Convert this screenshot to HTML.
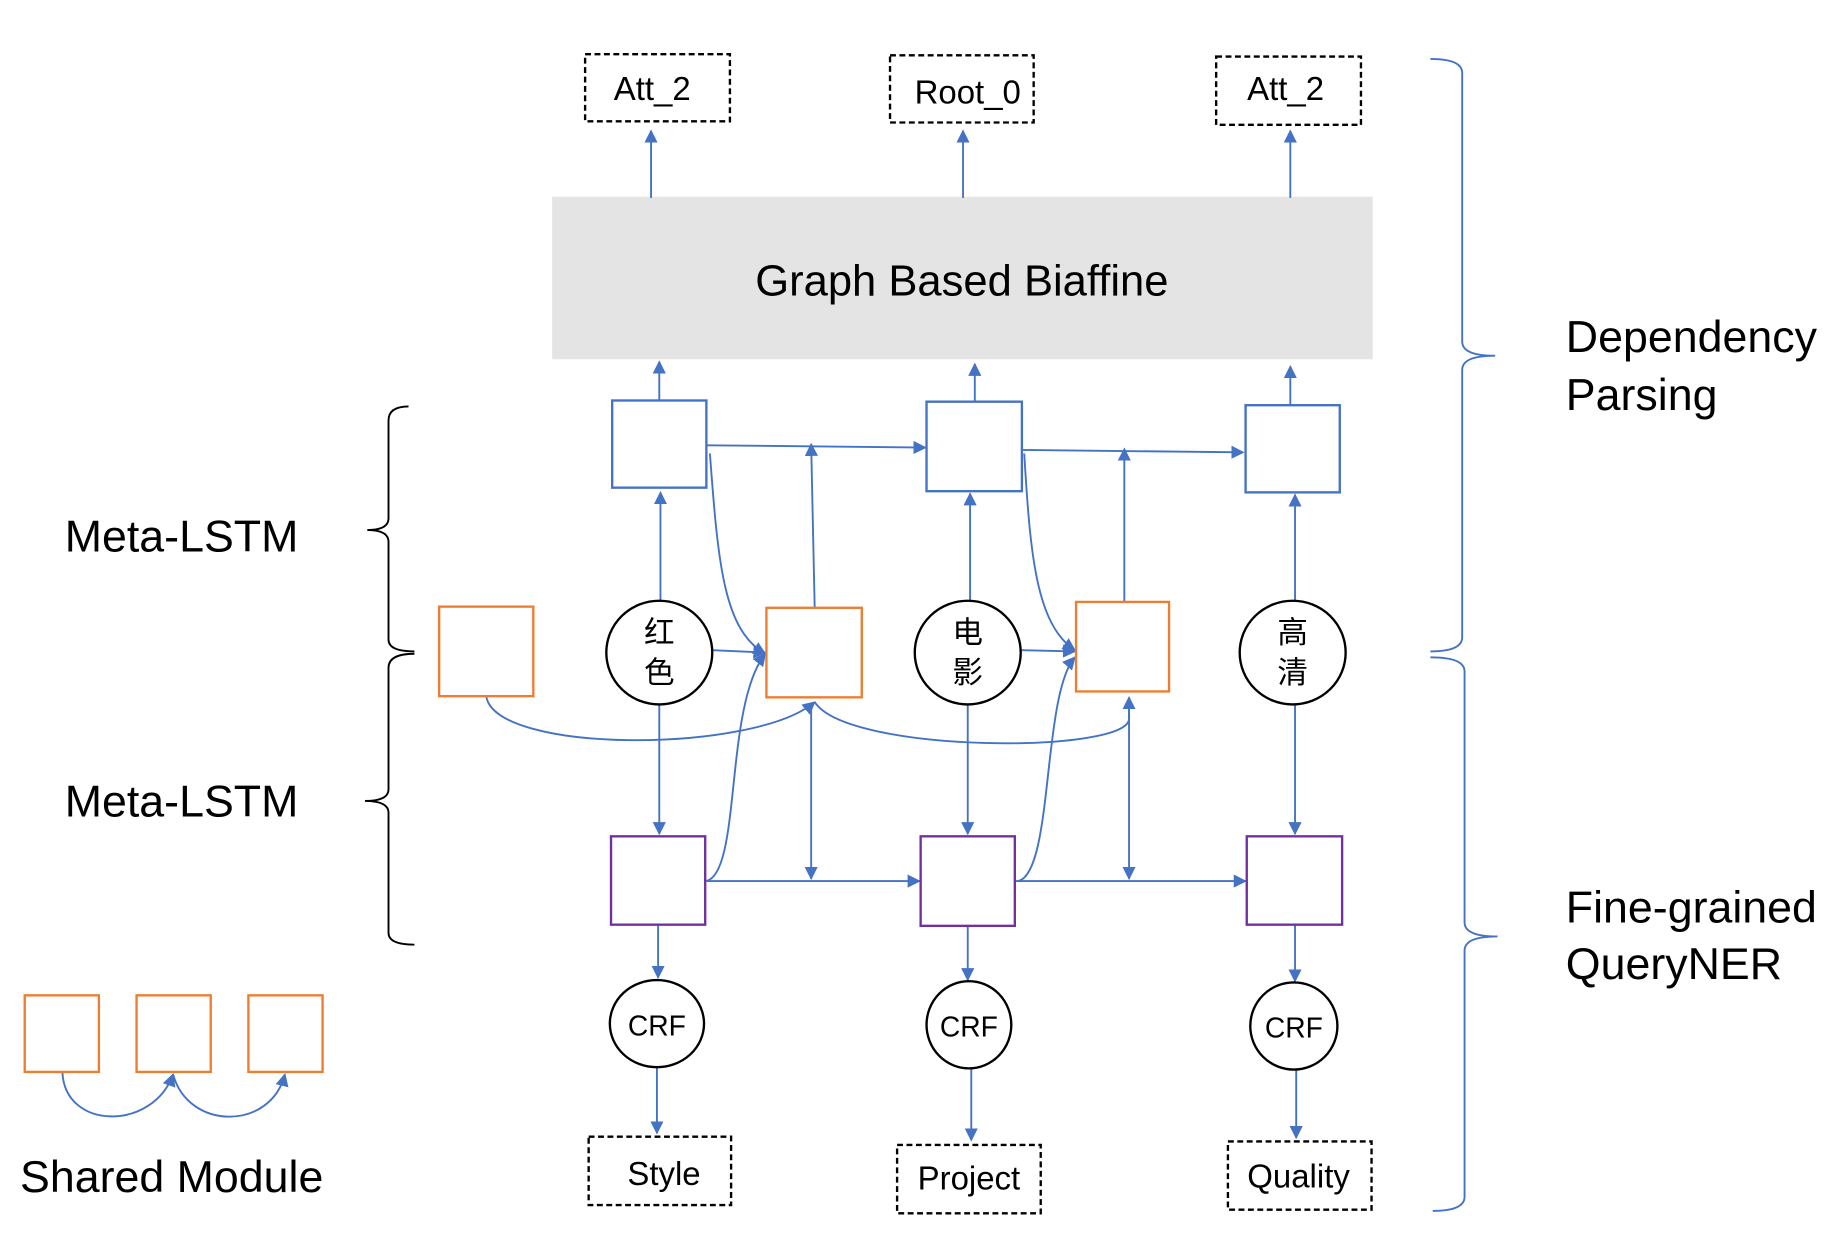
<!DOCTYPE html>
<html><head><meta charset="utf-8"><style>html,body{margin:0;padding:0;background:#fff}svg{display:block}</style></head>
<body>
<svg width="1846" height="1238" viewBox="0 0 1568 1051" preserveAspectRatio="none" xmlns="http://www.w3.org/2000/svg" font-family="'Liberation Sans','Noto Sans CJK SC',sans-serif">
<defs>
<marker id="a" viewBox="0 0 10 10" refX="9" refY="5" markerWidth="7" markerHeight="7" orient="auto-start-reverse"><path d="M0,0L10,5L0,10z" fill="#4472c4"/></marker>
</defs>
<rect width="1568" height="1051" fill="#fff"/>
<g fill="none" stroke="#000" stroke-width="2" stroke-dasharray="5,3">
<rect x="497" y="46" width="123" height="57"/>
<rect x="756" y="47" width="122" height="57"/>
<rect x="1033" y="48" width="123" height="58"/>
<rect x="500" y="965" width="121" height="58"/>
<rect x="762" y="972" width="122" height="58"/>
<rect x="1043" y="969" width="122" height="58"/>
</g>
<g font-size="28" text-anchor="middle" fill="#000">
<text x="554" y="85">Att_2</text>
<text x="822" y="88">Root_0</text>
<text x="1092" y="85">Att_2</text>
<text x="564" y="1006">Style</text>
<text x="823" y="1010">Project</text>
<text x="1103" y="1008">Quality</text>
</g>
<rect x="469" y="167" width="697" height="138" fill="#e4e4e4"/>
<text x="817" y="251" font-size="37" text-anchor="middle">Graph Based  Biaffine</text>
<g stroke="#4472c4" stroke-width="1.6" fill="none" marker-end="url(#a)">
<path d="M553,168V111"/><path d="M818,168V111"/><path d="M1096,168V111"/>
<path d="M560,340V307"/><path d="M828,341V309"/><path d="M1096,344V311"/>
<path d="M600,378L786,380"/><path d="M869,382L1056,384"/>
<path d="M561,510V418"/><path d="M560,598V708"/><path d="M605,552L650,554"/>
<path d="M603,385C610,480 615,535 650,555"/>
<path d="M692,516L689,377"/>
<path d="M600,748C630,740 615,600 650,555"/>
<path d="M413,591C420,640 640,640 692,596"/>
<path d="M692,596C720,640 960,640 959,610L959,592"/>
<path d="M689,600V746"/><path d="M959,600V746"/>
<path d="M600,748H781"/><path d="M862,748H1058"/>
<path d="M824,510V419"/><path d="M822,598V708"/><path d="M868,552L913,553"/>
<path d="M870,385C875,470 880,530 913,552"/>
<path d="M865,748C895,740 885,590 913,558"/>
<path d="M955,511V381"/>
<path d="M1100,510V420"/><path d="M1100,598V708"/>
<path d="M559,785V830"/><path d="M822,786V832"/><path d="M1100,785V833"/>
<path d="M558,906V962"/><path d="M825,907V968"/><path d="M1101,908V966"/>
<path d="M53,910C55,960 130,960 147,912"/><path d="M147,912C160,960 230,960 242,912"/>
</g>
<g fill="#fff" stroke-width="2">
<g stroke="#4472c4"><rect x="520" y="340" width="80" height="74"/><rect x="787" y="341" width="81" height="76"/><rect x="1058" y="344" width="80" height="74"/></g>
<g stroke="#ed7d31"><rect x="373" y="515" width="80" height="76"/><rect x="651" y="516" width="81" height="76"/><rect x="914" y="511" width="79" height="76"/>
<rect x="21" y="845" width="63" height="65"/><rect x="116" y="845" width="63" height="65"/><rect x="211" y="845" width="63" height="65"/></g>
<g stroke="#7030a0"><rect x="519" y="710" width="80" height="75"/><rect x="782" y="710" width="80" height="76"/><rect x="1059" y="710" width="81" height="75"/></g>
<g stroke="#000"><ellipse cx="560" cy="554" rx="45" ry="44"/><ellipse cx="822" cy="554" rx="45" ry="44"/><ellipse cx="1098" cy="554" rx="45" ry="44"/>
<ellipse cx="558" cy="869" rx="40" ry="37"/><ellipse cx="823" cy="870" rx="36" ry="37"/><ellipse cx="1099" cy="871" rx="37" ry="37"/></g>
</g>
<g font-size="26" text-anchor="middle">
<text x="560" y="546">红</text><text x="560" y="580">色</text>
<text x="822" y="546">电</text><text x="822" y="580">影</text>
<text x="1098" y="546">高</text><text x="1098" y="580">清</text>
<text x="558" y="879" font-size="24">CRF</text><text x="823" y="880" font-size="24">CRF</text><text x="1099" y="881" font-size="24">CRF</text>
</g>
<g fill="none" stroke-width="1.6">
<path stroke="#4472c4" d="M1215,50Q1242,50 1242,62V290Q1242,302 1270,302Q1242,302 1242,314V541Q1242,553 1215,553"/>
<path stroke="#4472c4" d="M1215,558Q1244,558 1244,570V783Q1244,795 1272,795Q1244,795 1244,807V1016Q1244,1028 1217,1028"/>
<path stroke="#000" d="M347,345Q330,345 330,357V440Q330,450 312,450Q330,450 330,460V543Q330,553 352,553"/>
<path stroke="#000" d="M352,555Q330,555 330,567V670Q330,680 310,680Q330,680 330,690V792Q330,802 352,802"/>
</g>
<g font-size="38" fill="#000">
<text x="55" y="468">Meta-LSTM</text><text x="55" y="693">Meta-LSTM</text>
<text x="1330" y="299">Dependency</text><text x="1330" y="348">Parsing</text>
<text x="1330" y="783">Fine-grained</text><text x="1330" y="831">QueryNER</text>
<text x="17" y="1012">Shared  Module</text>
</g>
</svg>
</body></html>
